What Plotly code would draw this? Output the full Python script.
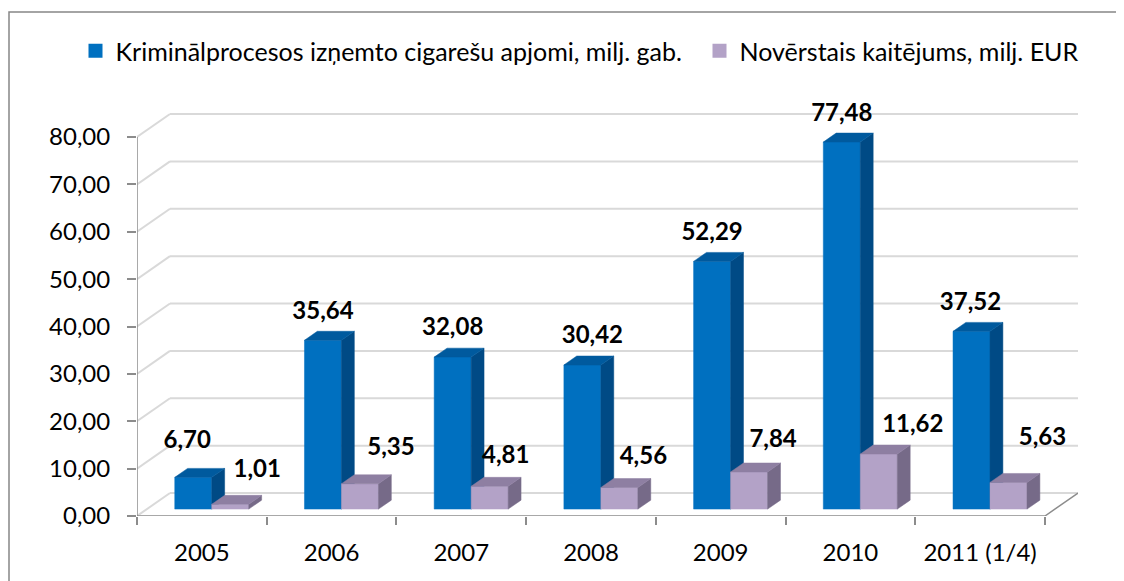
import plotly.graph_objects as go

# ---------------- data ----------------
categories = ["2005", "2006", "2007", "2008", "2009", "2010", "2011 (1/4)"]
cigarettes = [6.70, 35.64, 32.08, 30.42, 52.29, 77.48, 37.52]
damage = [1.01, 5.35, 4.81, 4.56, 7.84, 11.62, 5.63]
y_tick_values = [0, 10, 20, 30, 40, 50, 60, 70, 80]
series_names = ["Kriminālprocesos izņemto cigarešu apjomi, milj. gab.",
                "Novērstais kaitējums, milj. EUR"]

# ---------------- style / geometry ----------------
W, H = 1124, 581
PAGE_OFF = 8                  # default body margin of the html page
M_L, M_R = 137 - PAGE_OFF, 46 + PAGE_OFF
M_T, M_B = 90 - PAGE_OFF, 65 + PAGE_OFF
PX_PER_CAT = 129.71          # horizontal pixels per category
PX_PER_UNIT = 4.7375         # vertical pixels per value unit
plot_w = W - M_L - M_R
plot_h = H - M_T - M_B
x_min = -0.5
x_max = x_min + plot_w / PX_PER_CAT
y_max = plot_h / PX_PER_UNIT

DEPTH_X = 33 / PX_PER_CAT     # floor depth, x units
DEPTH_Y = 23 / PX_PER_UNIT    # floor depth, y units
BAR_FRONT_FRAC = 0.30         # bars start at this depth fraction
BAR_DEPTH_FRAC = 0.39         # bars are this deep
BAR_W = 37 / PX_PER_CAT

FONT = "Lato"
GRID = "#D9D9D9"
AXIS = "#8C8C8C"
series_colors = [
    dict(front="#0070C0", side="#004A85", top="#005A9E"),
    dict(front="#B3A2C7", side="#766A88", top="#8E7FA2"),
]
# legend box left edges (page pixels)
legend_left_px = [75.5, 699.5]
LEGEND_Y_PX = 51
# label placement (pixels): base offset per series + small per-label nudges
label_base = [(0, 27), (26, 30)]
label_nudge = [
    [(-6, 8), (0, 0), (0, 1), (10, 1), (0, 0), (0, 0), (-1, 0)],
    [(1, 3), (5, 5), (-10, -1), (-2, 0), (-2, 1), (8, -2), (8, 13)],
]

fig = go.Figure()

# ---------- walls: gridlines on back wall and left wall ----------
gx, gy = [], []
for v in y_tick_values:
    gx += [x_min, x_min + DEPTH_X, None]
    gy += [v, v + DEPTH_Y, None]
    gx += [x_min + DEPTH_X, x_max, None]
    gy += [v + DEPTH_Y, v + DEPTH_Y, None]
fig.add_trace(go.Scatter(x=gx, y=gy, mode="lines", line=dict(color=GRID, width=2),
                         hoverinfo="skip", showlegend=False))

# ---------- floor outline & axis lines ----------
n = len(categories)
x_front_right = x_min + n
ax_x = [x_min, x_min, None, x_min, x_front_right, x_front_right + DEPTH_X]
ax_y = [y_tick_values[-1], 0, None, 0, 0, DEPTH_Y]
fig.add_trace(go.Scatter(x=ax_x, y=ax_y, mode="lines", line=dict(color=AXIS, width=1.5),
                         hoverinfo="skip", showlegend=False))

# ---------- 3D bars ----------
bdx = BAR_DEPTH_FRAC * DEPTH_X
bdy = BAR_DEPTH_FRAC * DEPTH_Y
fx0 = BAR_FRONT_FRAC * DEPTH_X
fy0 = BAR_FRONT_FRAC * DEPTH_Y
all_series = [cigarettes, damage]

for i in range(n):
    for s, values in enumerate(all_series):
        v = values[i]
        c = series_colors[s]
        x0 = i + fx0 + (s - 1) * BAR_W
        x1 = x0 + BAR_W
        yb = fy0
        yt = fy0 + v
        fig.add_trace(go.Scatter(x=[x0, x1, x1, x0, x0], y=[yb, yb, yt, yt, yb],
                                 mode="lines", fill="toself", fillcolor=c["front"],
                                 line=dict(color=c["front"], width=0.5),
                                 hoverinfo="skip", showlegend=False))
        fig.add_trace(go.Scatter(x=[x1, x1 + bdx, x1 + bdx, x1, x1],
                                 y=[yb, yb + bdy, yt + bdy, yt, yb],
                                 mode="lines", fill="toself", fillcolor=c["side"],
                                 line=dict(color=c["side"], width=0.5),
                                 hoverinfo="skip", showlegend=False))
        fig.add_trace(go.Scatter(x=[x0, x1, x1 + bdx, x0 + bdx, x0],
                                 y=[yt, yt, yt + bdy, yt + bdy, yt],
                                 mode="lines", fill="toself", fillcolor=c["top"],
                                 line=dict(color=c["top"], width=0.5),
                                 hoverinfo="skip", showlegend=False))

# ---------- data labels ----------
for s, values in enumerate(all_series):
    lx, ly, lt = [], [], []
    for i, v in enumerate(values):
        x0 = i + fx0 + (s - 1) * BAR_W
        cx = x0 + BAR_W / 2
        ndx, ndy = label_nudge[s][i]
        bx, by = label_base[s]
        lx.append(cx + (bx + ndx) / PX_PER_CAT)
        ly.append(fy0 + v + (by + ndy) / PX_PER_UNIT)
        lt.append("<b>" + f"{v:.2f}".replace(".", ",") + "</b>")
    fig.add_trace(go.Scatter(x=lx, y=ly, mode="text", text=lt,
                             textposition="middle center",
                             textfont=dict(family=FONT, size=24, color="#000000"),
                             hoverinfo="skip", showlegend=False, cliponaxis=False))

# ---------- legend entries (one legend per series, side by side) ----------
legend_ids = ["legend", "legend2"]
for s, name in enumerate(series_names):
    fig.add_trace(go.Scatter(x=[None], y=[None], mode="markers", name=name,
                             legend=legend_ids[s],
                             marker=dict(symbol="square", size=14,
                                         color=series_colors[s]["front"])))

legend_style = dict(orientation="h", xanchor="left", yanchor="middle",
                    y=(H - M_B - (LEGEND_Y_PX - PAGE_OFF)) / plot_h,
                    font=dict(family=FONT, size=25, color="#000000"),
                    itemwidth=30, bgcolor="rgba(0,0,0,0)")

# ---------- outer border ----------
fig.add_shape(type="rect", xref="paper", yref="paper",
              x0=(8 - PAGE_OFF - M_L + 1) / plot_w, x1=(W + 10 - M_L) / plot_w,
              y0=-(M_B + 20) / plot_h, y1=(H - M_B - (12 - PAGE_OFF)) / plot_h,
              line=dict(color="#868686", width=1.5), fillcolor="rgba(0,0,0,0)", layer="below")

fig.update_layout(
    width=W, height=H,
    margin=dict(l=M_L, r=M_R, t=M_T, b=M_B, pad=0, autoexpand=False),
    paper_bgcolor="white", plot_bgcolor="white",
    font=dict(family=FONT, size=24, color="#000000"),
    showlegend=True,
    legend=dict(legend_style, x=(legend_left_px[0] - PAGE_OFF - M_L) / plot_w),
    legend2=dict(legend_style, x=(legend_left_px[1] - PAGE_OFF - M_L) / plot_w),
    xaxis=dict(range=[x_min, x_max], showgrid=False, zeroline=False, showline=False,
               tickmode="array", tickvals=list(range(n)), ticktext=categories,
               ticks="outside", ticklen=0, tickcolor="rgba(0,0,0,0)",
               ticklabelstandoff=15,
               minor=dict(tickmode="array", tickvals=[x_min + k for k in range(n + 1)],
                          ticks="outside", ticklen=8, tickwidth=1.5, tickcolor=AXIS,
                          showgrid=False),
               fixedrange=True),
    yaxis=dict(range=[0, y_max], showgrid=False, zeroline=False, showline=False,
               tickmode="array", tickvals=y_tick_values,
               ticktext=[f"{v:.2f}".replace(".", ",") for v in y_tick_values],
               ticks="outside", ticklen=9, tickwidth=1.5, tickcolor=AXIS,
               ticklabelstandoff=12, fixedrange=True),
)

fig.write_html("out.html")
